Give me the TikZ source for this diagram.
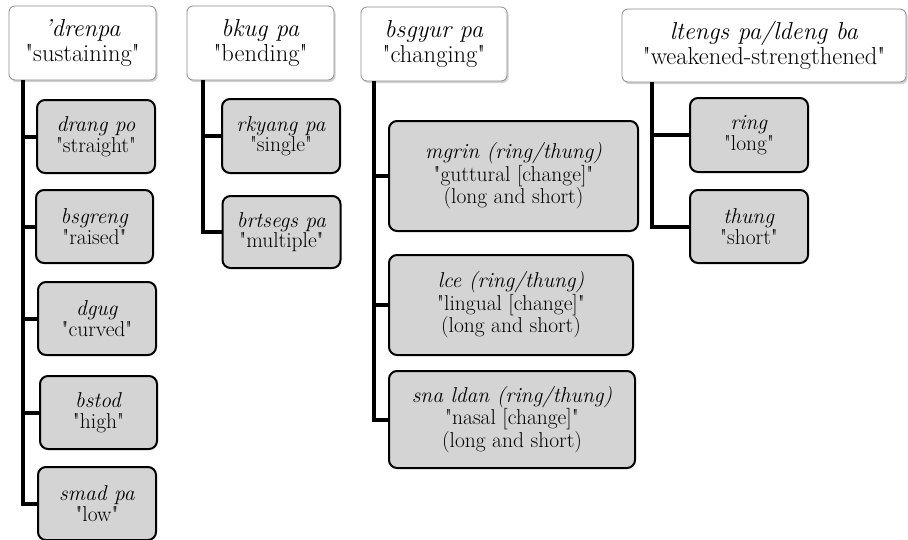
\documentclass[tikz,border=0pt]{standalone}
\usepackage{fontspec}
\setmainfont{Latin Modern Roman}[Ligatures=TeXOff]
\usetikzlibrary{shadows}

\tikzset{
  kopf/.style={draw=black!45, fill=white, rounded corners=6pt, line width=0.8pt,
    align=center, inner sep=0pt, font=\fontsize{24.5}{25}\selectfont,
    drop shadow={shadow xshift=1.5pt, shadow yshift=-2pt, opacity=0.3, fill=black!60}},
  blatt/.style={draw=black, fill=black!17, rounded corners=8pt, line width=2pt,
    align=center, inner sep=0pt, font=\fontsize{21.5}{20.5}\selectfont},
  wh/.style 2 args={minimum width=#1pt, minimum height=#2pt},
  ast/.style={line width=4pt}
}

\begin{document}
\begin{tikzpicture}[x=1pt, y=-1pt]

\useasboundingbox (0,0) rectangle (908,539);

% Oberbegriffe
\node[kopf, wh={147}{74}] (drenpa) at (82.5,43) {\textit{’drenpa}\\"sustaining"};
\node[kopf, wh={147}{74}] (bkug) at (260.5,43) {\textit{bkug pa}\\"bending"};
\node[kopf, wh={146}{74}] (bsgyur) at (434,44) {\textit{bsgyur pa}\\"changing"};
\node[kopf, wh={284}{73}] (ltengs) at (764,45.5) {\textit{ltengs pa/ldeng ba}\\"weakened-strengthened"};

% Spalte 1
\node[blatt, wh={118}{73}] (drang) at (96,136.5) {\textit{drang po}\\"straight"};
\node[blatt, wh={117}{73}] (bsgreng) at (94.5,226.5) {\textit{bsgreng}\\"raised"};
\node[blatt, wh={118}{73}] (dgug) at (97,318.5) {\textit{dgug}\\"curved"};
\node[blatt, wh={117}{73}] (bstod) at (98.5,412.5) {\textit{bstod}\\"high"};
\node[blatt, wh={118}{73}] (smad) at (97,503.5) {\textit{smad pa}\\"low"};

% Spalte 2
\node[blatt, wh={118}{74}] (rkyang) at (281,136) {\textit{rkyang pa}\\"single"};
\node[blatt, wh={118}{72}] (brtsegs) at (281.5,232) {\textit{brtsegs pa}\\"multiple"};

% Spalte 3
\node[blatt, wh={249}{110}] (mgrin) at (513.5,176) {\textit{mgrin (ring/thung)}\\"guttural [change]"\\(long and short)};
\node[blatt, wh={244}{100}] (lce) at (511,305) {\textit{lce (ring/thung)}\\"lingual [change]"\\(long and short)};
\node[blatt, wh={246}{97}] (sna) at (512,419.5) {\textit{sna ldan (ring/thung)}\\"nasal [change]"\\(long and short)};

% Spalte 4
\node[blatt, wh={118}{74}] (ring) at (749,135) {\textit{ring}\\"long"};
\node[blatt, wh={118}{73}] (thung) at (749,226.5) {\textit{thung}\\"short"};

% Verbindungen
\coordinate (t1) at (23,80);
\coordinate (t2) at (203,80);
\coordinate (t3) at (374,81);
\coordinate (t4) at (652,82);

\draw[ast] (t1) |- (drang.west);
\draw[ast] (t1) |- (bsgreng.west);
\draw[ast] (t1) |- (dgug.west);
\draw[ast] (t1) |- (bstod.west);
\draw[ast] (t1) |- (smad.west);

\draw[ast] (t2) |- (rkyang.west);
\draw[ast] (t2) |- (brtsegs.west);

\draw[ast] (t3) |- (mgrin.west);
\draw[ast] (t3) |- (lce.west);
\draw[ast] (t3) |- (sna.west);

\draw[ast] (t4) |- (ring.west);
\draw[ast] (t4) |- (thung.west);

\end{tikzpicture}
\end{document}
